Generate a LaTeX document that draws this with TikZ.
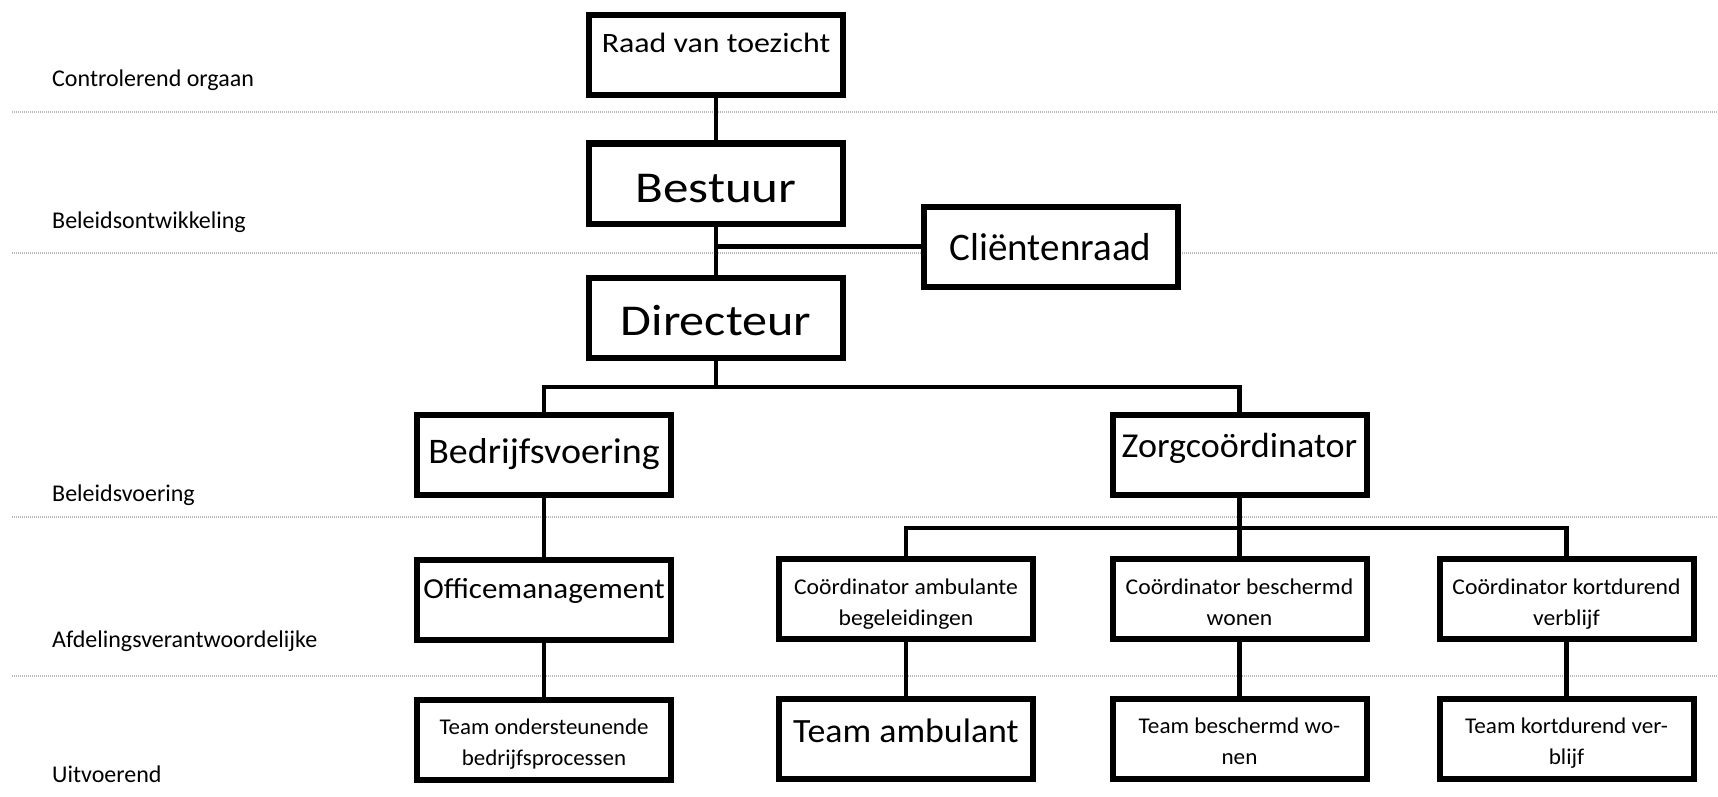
\documentclass[tikz,border=0pt]{standalone}
\usepackage{graphicx}
\usepackage{fontspec}
\setmainfont{Carlito}
\newcommand{\boxtxt}[3]{\raisebox{#1}{\scalebox{#2}[1]{#3}}}
\newcommand{\twoline}[4]{\raisebox{#1}{\scalebox{#2}[1]{\begin{tabular}[b]{@{}c@{}}#3\\#4\end{tabular}}}}
\begin{document}
\begin{tikzpicture}[x=1pt,y=-1pt,
  box/.style={draw=black,line width=6pt,fill=white,minimum width=254pt,minimum height=80pt,inner sep=0pt,text height=0pt,text depth=0pt},
  conn/.style={line width=4.5pt,draw=black},
  sep/.style={draw=gray!55,line width=2.2pt,dash pattern=on 1.2pt off 0.8pt},
  lbl/.style={anchor=base west,font=\fontsize{24}{28}\selectfont,inner sep=0pt},
  small/.style={font=\fontsize{22.5}{31}\selectfont}
]
\useasboundingbox (0,0) rectangle (1718,797);
% separators
\draw[sep] (12,112) -- (1718,112);
\draw[sep] (12,253) -- (1718,253);
\draw[sep] (12,517) -- (1718,517);
\draw[sep] (12,676) -- (1718,676);
% level labels
\node[lbl] (l1) at (52,87) {Controlerend orgaan};
\node[lbl] (l2) at (52,228) {Beleidsontwikkeling};
\node[lbl] (l3) at (52,501) {Beleidsvoering};
\node[lbl] (l4) at (52,647) {Afdelingsverantwoordelijke};
\node[lbl] (l5) at (52,782) {Uitvoerend};
% boxes
\node[box,font=\fontsize{28}{34}\selectfont] (raad) at (716,55) {\boxtxt{2pt}{1.14}{Raad van toezicht}};
\node[box,font=\fontsize{44}{52}\selectfont] (bestuur) at (716,183.5) {\boxtxt{-18.5pt}{1.16}{Bestuur}};
\node[box,font=\fontsize{44}{52}\selectfont] (dir) at (716,317.5) {\boxtxt{-17.5pt}{1.14}{Directeur}};
\node[box,font=\fontsize{39}{46}\selectfont] (client) at (1050.5,246.5) {\boxtxt{-13.5pt}{1}{Cliëntenraad}\hspace{12pt}};
\node[box,font=\fontsize{36}{42}\selectfont] (bedrijf) at (544,455) {\boxtxt{-8pt}{1.055}{Bedrijfsvoering}};
\node[box,font=\fontsize{35}{42}\selectfont] (zorg) at (1239.5,455) {\boxtxt{-2pt}{1.03}{Zorgcoördinator}};
\node[box,font=\fontsize{29}{34}\selectfont] (office) at (544,600) {\boxtxt{2pt}{1.07}{Officemanagement}};
\node[box,small] (camb) at (906,599) {\twoline{-26pt}{1.05}{Coördinator ambulante}{begeleidingen}};
\node[box,small] (cbes) at (1239.5,599) {\twoline{-26pt}{1.05}{Coördinator beschermd}{wonen}};
\node[box,small] (ckort) at (1566.5,599) {\twoline{-26pt}{1.05}{Coördinator kortdurend}{verblijf}};
\node[box,small] (tond) at (544,740) {\twoline{-25pt}{1.02}{Team ondersteunende}{bedrijfsprocessen}};
\node[box,font=\fontsize{34}{40}\selectfont] (tamb) at (906,739) {\boxtxt{-3pt}{1.055}{Team ambulant}};
\node[box,small] (tbes) at (1239.5,739) {\twoline{-25pt}{1.03}{Team beschermd wo-}{nen}};
\node[box,small] (tkort) at (1566.5,739) {\twoline{-25pt}{1.03}{Team kortdurend ver-}{blijf}};
% junction coordinates
\coordinate (j1) at (716,387);
\coordinate (j2) at (1239.5,528);
% connectors
\draw[conn] (raad.south) -- (bestuur.north);
\draw[conn] (bestuur.south) -- (dir.north);
\draw[conn] (client.west) -- (client.west -| bestuur.south);
\draw[conn] (dir.south) -- (j1);
\draw[conn] (bedrijf.north) |- (j1) -| (zorg.north);
\draw[conn] (bedrijf.south) -- (office.north);
\draw[conn] (office.south) -- (tond.north);
\draw[conn] (zorg.south) -- (j2);
\draw[conn] (camb.north) |- (j2) -| (ckort.north);
\draw[conn] (j2) -- (cbes.north);
\draw[conn] (camb.south) -- (tamb.north);
\draw[conn] (cbes.south) -- (tbes.north);
\draw[conn] (ckort.south) -- (tkort.north);
\end{tikzpicture}
\end{document}
